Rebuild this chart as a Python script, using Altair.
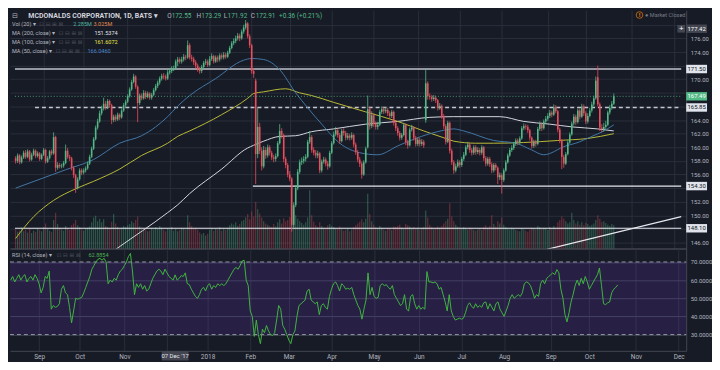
import altair as alt
import pandas as pd

# ---------------- data ----------------
closes = [
    158.0, 158.8, 157.8, 158.5, 159.2, 158.6, 159.4, 158.2, 158.9, 159.5,
    158.7, 159.1, 158.3, 158.9, 159.6, 157.9, 158.4, 159.4, 159.1, 161.5,
    157.0, 157.4, 157.2, 157.3, 157.7, 159.5, 158.6, 158.4, 157.0, 155.9,
    154.0, 155.3, 156.6, 156.3, 156.6, 156.9, 157.6, 158.6, 159.8, 161.2,
    162.9, 163.8, 165.0, 165.7, 166.4, 165.9, 166.8, 166.2, 164.0, 164.5,
    164.1, 164.8, 164.4, 165.4, 166.2, 166.7, 167.5, 168.5, 169.6, 170.4,
    168.9, 166.5, 167.6, 167.2, 168.0, 167.4, 167.9, 167.3, 167.7, 168.4,
    169.0, 169.5, 170.1, 170.5, 170.4, 170.1, 171.0, 171.2, 171.5, 171.6,
    172.6, 172.91, 172.6, 172.9, 173.3, 173.2, 175.0, 173.2, 173.0, 172.5,
    172.0, 171.5, 171.2, 171.8, 172.4, 172.6, 172.1, 173.0, 173.4, 172.6,
    173.2, 172.9, 173.5, 173.2, 173.6, 173.3, 173.9, 174.6, 175.3, 175.6,
    176.0, 176.4, 176.0, 177.0, 177.6, 178.2, 176.3, 175.0, 171.2, 170.8,
    159.0, 163.0, 159.5, 157.2, 159.6, 158.8, 160.0, 159.2, 158.5, 158.3,
    158.7, 160.6, 162.4, 161.8, 158.3, 157.4, 156.0, 155.4, 148.6, 151.5,
    154.0, 156.4, 157.8, 158.0, 158.3, 158.6, 160.8, 161.5, 159.6, 159.2,
    158.8, 159.1, 156.6, 157.9, 158.2, 157.6, 157.2, 159.2, 160.6, 161.9,
    162.5, 161.8, 160.9, 162.4, 162.1, 161.4, 161.7, 161.4, 161.8, 160.4,
    159.3, 158.2, 157.6, 156.0, 157.8, 159.8, 165.6, 163.1, 164.7, 163.4,
    163.0, 163.3, 165.2, 165.6, 165.3, 165.5, 165.0, 164.6, 165.2, 163.6,
    162.8, 162.1, 161.4, 161.8, 163.3, 160.8, 160.3, 162.6, 162.9, 161.4,
    160.5, 161.1, 160.5, 160.8, 160.3, 169.4, 167.5, 167.4, 167.1, 167.3,
    166.9, 165.8, 166.1, 164.6, 163.1, 160.8, 163.6, 159.5, 157.8, 156.6,
    157.2, 157.8, 157.4, 158.3, 158.9, 160.0, 160.4, 159.6, 159.2, 160.0,
    159.3, 159.6, 159.2, 160.0, 158.4, 157.6, 158.3, 157.5, 156.6, 157.4,
    157.0, 155.6, 155.9, 155.2, 156.6, 157.8, 158.8, 159.6, 159.9, 160.5,
    161.0, 160.7, 161.3, 162.8, 163.1, 163.0, 162.5, 161.4, 160.2, 160.8,
    160.5, 162.7, 163.4, 162.8, 163.8, 164.2, 164.6, 165.1, 164.8, 165.9,
    165.3, 162.6, 161.0, 158.6, 157.6, 159.0, 160.7, 161.9, 163.5, 164.5,
    163.7, 165.4, 164.5, 166.0, 165.0, 163.8, 164.6, 165.4, 166.3, 167.2,
    169.8, 166.3, 162.9, 162.7, 163.0, 163.3, 165.1, 165.8, 166.4, 167.49,
]
opens = [
    158.4, 158.0, 158.8, 157.8, 158.5, 159.2, 158.6, 159.4, 158.2, 158.9,
    159.5, 158.7, 159.1, 158.3, 158.9, 159.6, 157.9, 158.4, 159.4, 159.1,
    161.5, 157.0, 157.4, 157.2, 157.3, 157.7, 159.5, 158.6, 158.4, 157.0,
    155.9, 154.0, 155.3, 156.6, 156.3, 156.6, 156.9, 157.6, 158.6, 159.8,
    161.2, 162.9, 163.8, 165.0, 165.7, 166.4, 165.9, 166.8, 166.2, 164.0,
    164.5, 164.1, 164.8, 164.4, 165.4, 166.2, 166.7, 167.5, 168.5, 169.6,
    170.4, 168.9, 166.5, 167.6, 167.2, 168.0, 167.4, 167.9, 167.3, 167.7,
    168.4, 169.0, 169.5, 170.1, 170.5, 170.4, 170.1, 171.0, 171.2, 171.5,
    171.6, 172.55, 172.91, 172.6, 172.9, 173.3, 173.2, 175.0, 173.2, 173.0,
    172.5, 172.0, 171.5, 171.2, 171.8, 172.4, 172.6, 172.1, 173.0, 173.4,
    172.6, 173.2, 172.9, 173.5, 173.2, 173.6, 173.3, 173.9, 174.6, 175.3,
    175.6, 176.0, 176.4, 176.0, 177.0, 177.6, 178.2, 176.3, 175.0, 171.2,
    169.8, 159.0, 163.0, 159.5, 157.2, 159.6, 158.8, 160.0, 159.2, 158.5,
    158.3, 158.7, 160.6, 162.4, 161.8, 158.3, 157.4, 156.0, 155.4, 148.6,
    151.5, 154.0, 156.4, 157.8, 158.0, 158.3, 158.6, 160.8, 161.5, 159.6,
    159.2, 158.8, 159.1, 156.6, 157.9, 158.2, 157.6, 157.2, 159.2, 160.6,
    161.9, 162.5, 161.8, 160.9, 162.4, 162.1, 161.4, 161.7, 161.4, 161.8,
    160.4, 159.3, 158.2, 157.6, 156.0, 157.8, 160.0, 165.6, 163.1, 164.7,
    163.4, 163.0, 163.3, 165.2, 165.6, 165.3, 165.5, 165.0, 164.6, 165.2,
    163.6, 162.8, 162.1, 161.4, 161.8, 163.3, 160.8, 160.3, 162.6, 162.9,
    161.4, 160.5, 161.1, 160.5, 160.8, 164.0, 169.4, 167.5, 167.4, 167.1,
    167.3, 166.9, 165.8, 166.1, 164.6, 163.1, 160.8, 163.6, 159.5, 157.8,
    156.6, 157.2, 157.8, 157.4, 158.3, 158.9, 160.0, 160.4, 159.6, 159.2,
    160.0, 159.3, 159.6, 159.2, 160.0, 158.4, 157.6, 158.3, 157.5, 156.6,
    157.4, 157.0, 155.6, 155.9, 155.2, 156.6, 157.8, 158.8, 159.6, 159.9,
    160.5, 161.0, 160.7, 161.3, 162.8, 163.1, 163.0, 162.5, 161.4, 160.2,
    160.8, 160.5, 162.7, 163.4, 162.8, 163.8, 164.2, 164.6, 165.1, 164.8,
    165.9, 165.3, 162.6, 161.0, 158.6, 157.6, 159.0, 160.7, 161.9, 163.5,
    164.5, 163.7, 165.4, 164.5, 166.0, 165.0, 163.8, 164.6, 165.4, 166.3,
    167.2, 170.3, 166.3, 162.9, 162.7, 163.0, 163.3, 165.1, 165.8, 166.4,
]
highs = [
    158.7, 159.1, 159.0, 158.8, 159.5, 159.6, 159.7, 159.6, 159.2, 159.8,
    159.7, 159.4, 159.3, 159.1, 159.9, 159.8, 158.7, 159.6, 159.7, 162.2,
    161.7, 157.8, 157.7, 157.6, 158.0, 160.4, 159.9, 158.9, 158.6, 157.2,
    156.1, 155.6, 156.9, 156.9, 156.9, 157.2, 157.9, 158.9, 160.1, 161.5,
    163.2, 164.2, 165.4, 166.1, 167.3, 166.8, 167.1, 167.0, 166.4, 164.8,
    164.8, 165.1, 165.0, 165.7, 166.5, 167.0, 167.8, 168.8, 169.9, 170.8,
    170.6, 169.1, 167.9, 167.9, 168.4, 168.3, 168.2, 168.1, 168.0, 168.7,
    169.3, 169.8, 170.4, 170.8, 170.9, 170.7, 171.4, 171.6, 171.9, 172.0,
    172.9, 173.29, 173.2, 173.3, 173.7, 173.6, 175.7, 175.3, 173.6, 173.3,
    172.8, 172.3, 171.8, 172.1, 172.7, 173.0, 172.9, 173.4, 173.8, 173.6,
    173.5, 173.5, 173.8, 173.8, 174.0, 173.9, 174.2, 174.9, 175.6, 176.0,
    176.4, 176.8, 176.7, 177.3, 178.0, 178.7, 178.4, 176.6, 175.2, 171.6,
    170.1, 165.8, 163.6, 160.0, 160.2, 160.0, 160.4, 160.3, 159.5, 158.9,
    159.1, 160.9, 163.4, 162.8, 162.0, 158.6, 157.7, 156.5, 155.6, 151.9,
    154.4, 156.8, 158.2, 158.5, 158.7, 159.0, 161.1, 162.4, 161.8, 160.0,
    159.6, 159.5, 159.3, 158.2, 158.6, 158.5, 158.0, 159.5, 160.9, 162.3,
    163.0, 162.8, 162.1, 162.7, 162.8, 162.4, 162.1, 162.0, 162.2, 162.0,
    160.7, 159.6, 158.6, 157.9, 158.1, 160.1, 167.6, 166.0, 165.3, 165.0,
    163.8, 163.7, 165.5, 166.0, 165.9, 165.9, 165.8, 165.3, 165.5, 165.4,
    163.9, 163.1, 162.4, 162.1, 163.6, 163.5, 161.1, 162.9, 163.3, 163.1,
    161.7, 161.4, 161.4, 161.2, 161.1, 171.4, 169.7, 167.9, 167.7, 167.7,
    167.6, 167.1, 166.5, 166.3, 164.9, 163.4, 163.9, 163.8, 159.8, 158.1,
    157.6, 158.2, 158.1, 158.6, 159.3, 160.3, 160.8, 160.7, 159.9, 160.3,
    160.3, 160.0, 159.9, 160.3, 160.2, 158.7, 158.6, 158.6, 157.8, 157.7,
    157.7, 157.2, 156.3, 156.2, 156.9, 158.1, 159.1, 159.9, 160.3, 160.8,
    161.3, 161.3, 161.6, 163.1, 163.5, 163.4, 163.3, 162.7, 161.6, 161.1,
    161.1, 163.0, 163.8, 163.7, 164.1, 164.6, 165.0, 165.5, 165.4, 166.3,
    166.2, 165.5, 162.9, 161.2, 158.9, 159.3, 161.0, 162.2, 163.8, 164.9,
    164.8, 165.7, 165.7, 166.4, 166.3, 165.3, 165.0, 165.8, 166.7, 167.6,
    170.4, 172.0, 166.6, 163.4, 163.6, 163.9, 165.4, 166.2, 166.8, 167.9,
]
lows = [
    157.6, 157.7, 157.5, 157.6, 158.3, 158.3, 158.4, 157.9, 158.0, 158.7,
    158.4, 158.5, 158.0, 158.1, 158.7, 157.6, 157.7, 158.2, 158.8, 158.9,
    156.4, 156.7, 156.9, 156.9, 157.0, 157.5, 158.3, 158.0, 156.6, 155.5,
    153.3, 153.8, 155.1, 155.9, 156.0, 156.3, 156.7, 157.4, 158.4, 159.6,
    161.0, 162.6, 163.6, 164.7, 165.4, 165.5, 165.6, 165.8, 163.4, 163.7,
    163.8, 163.9, 164.0, 164.2, 165.2, 165.9, 166.5, 167.3, 168.3, 169.4,
    168.6, 163.7, 166.2, 166.9, 167.0, 167.1, 167.2, 167.0, 167.0, 167.5,
    168.2, 168.7, 169.2, 169.8, 170.0, 169.8, 169.9, 170.7, 170.9, 171.2,
    171.4, 171.92, 172.3, 172.3, 172.6, 172.8, 173.0, 172.9, 172.6, 172.1,
    171.6, 171.1, 170.8, 170.9, 171.5, 172.1, 171.8, 171.9, 172.7, 172.3,
    172.4, 172.5, 172.6, 172.9, 172.9, 173.0, 173.1, 173.7, 174.4, 175.0,
    175.3, 175.7, 175.6, 175.8, 176.7, 177.3, 176.0, 174.6, 170.8, 170.2,
    154.6, 158.4, 159.0, 156.6, 156.9, 158.3, 158.5, 158.8, 158.1, 157.8,
    157.9, 158.5, 160.4, 161.3, 157.8, 156.9, 155.6, 155.0, 147.6, 148.2,
    151.2, 153.7, 156.1, 157.4, 157.6, 157.9, 158.4, 160.5, 159.2, 158.8,
    158.4, 158.4, 156.2, 156.3, 157.6, 157.2, 156.7, 157.0, 159.0, 160.4,
    161.6, 161.4, 160.5, 160.7, 161.7, 161.0, 161.1, 161.0, 161.1, 160.0,
    158.9, 157.8, 157.1, 155.4, 155.8, 157.6, 159.8, 162.6, 162.8, 163.0,
    162.6, 162.6, 163.1, 164.9, 164.9, 165.0, 164.6, 164.2, 164.3, 163.2,
    162.4, 161.7, 161.0, 161.1, 161.6, 160.3, 159.8, 160.1, 162.3, 161.0,
    160.1, 160.2, 160.1, 160.2, 159.9, 163.6, 167.0, 167.0, 166.7, 166.8,
    166.5, 165.4, 165.5, 164.2, 162.7, 160.4, 160.6, 159.1, 157.4, 156.1,
    156.3, 157.0, 157.0, 157.1, 158.0, 158.7, 159.7, 159.2, 158.8, 158.9,
    158.9, 159.0, 158.8, 158.9, 158.0, 157.2, 157.3, 157.1, 156.2, 156.3,
    156.6, 154.6, 155.2, 153.2, 154.9, 156.4, 157.6, 158.6, 159.3, 159.6,
    160.2, 160.3, 160.4, 161.1, 162.5, 162.6, 162.1, 161.0, 159.8, 159.9,
    160.1, 160.3, 162.4, 162.4, 162.6, 163.5, 163.9, 164.3, 164.4, 164.6,
    165.0, 162.2, 160.6, 156.8, 157.0, 157.4, 158.8, 160.5, 161.7, 163.2,
    163.3, 163.5, 164.1, 164.3, 164.6, 163.4, 163.5, 164.4, 165.1, 166.0,
    167.0, 166.0, 162.4, 162.2, 162.3, 162.6, 163.1, 164.8, 165.5, 166.2,
]
volumes = [
    3.2, 2.8, 3.0, 3.5, 2.9, 3.1, 2.7, 3.3, 2.6, 3.0, 2.8, 3.4, 3.1, 2.9, 3.6, 4.2, 3.3, 3.0, 2.8, 4.8,
    6.0, 4.1, 3.5, 3.2, 3.0, 3.8, 3.4, 3.1, 3.9, 4.2, 4.8, 3.9, 3.6, 3.2, 3.0, 3.3, 3.5, 3.7, 4.4, 5.2,
    5.5, 4.6, 5.0, 4.4, 4.9, 3.8, 3.6, 3.4, 4.5, 5.8, 4.2, 3.6, 3.3, 3.5, 3.8, 3.6, 3.9, 4.1, 4.6, 4.3,
    4.8, 5.4, 3.7, 3.3, 3.1, 3.2, 2.9, 3.0, 3.4, 3.2, 3.6, 3.3, 3.8, 3.5, 3.1, 2.9, 3.4, 3.2, 3.6, 3.0,
    3.3, 2.9, 3.1, 3.5, 3.4, 3.2, 5.6, 4.4, 3.8, 3.3, 3.5, 3.1, 2.7, 2.4, 2.6, 2.2, 2.5, 3.1, 3.4, 3.0,
    3.3, 3.2, 3.6, 3.0, 3.4, 3.1, 3.5, 3.9, 4.2, 4.0, 4.4, 3.8, 4.1, 4.6, 4.8, 5.2, 5.8, 4.9, 6.2, 5.4,
    7.8, 6.6, 5.9, 5.2, 4.6, 4.2, 4.0, 3.8, 3.6, 4.1, 3.7, 4.4, 4.9, 4.2, 5.1, 4.6, 4.8, 5.3, 6.8, 6.0,
    5.6, 5.0, 4.6, 4.3, 4.0, 4.4, 5.2, 9.8, 5.6, 4.5, 3.9, 3.6, 4.4, 3.8, 3.5, 3.4, 3.9, 4.1, 3.8, 3.6,
    3.4, 3.3, 3.7, 3.2, 3.0, 3.1, 3.3, 2.9, 3.2, 3.6, 3.9, 4.2, 4.5, 4.9, 4.4, 5.0, 9.2, 5.8, 4.6, 4.0,
    3.6, 3.4, 3.8, 3.5, 3.2, 3.0, 3.3, 3.4, 3.1, 3.7, 3.6, 3.8, 4.0, 3.5, 3.3, 4.1, 3.9, 3.7, 3.4, 3.6,
    3.3, 3.5, 3.2, 3.4, 3.6, 6.4, 5.2, 4.0, 3.6, 3.3, 3.4, 3.7, 3.5, 3.8, 4.2, 4.6, 5.0, 7.6, 5.4, 4.6,
    4.0, 3.7, 3.5, 3.3, 3.6, 3.4, 3.2, 3.5, 3.3, 3.1, 3.0, 3.2, 3.4, 3.1, 3.6, 3.9, 3.5, 3.8, 5.6, 4.1,
    3.7, 4.6, 4.2, 5.2, 4.0, 3.6, 3.4, 3.2, 3.5, 3.3, 3.1, 3.0, 2.9, 3.4, 3.2, 3.0, 2.8, 3.1, 3.5, 3.3,
    3.2, 3.8, 3.6, 3.3, 3.5, 3.4, 3.1, 3.6, 3.4, 3.8, 3.5, 4.4, 4.8, 5.4, 5.0, 4.6, 4.2, 4.4, 6.0, 4.8,
    4.2, 4.6, 4.0, 4.4, 3.9, 4.3, 4.1, 3.8, 4.0, 4.2, 4.8, 5.6, 5.0, 4.5, 4.6, 4.3, 4.0, 3.8, 4.1, 3.9,
]
rsi14 = [
    60, 62, 59, 61, 63, 60, 62, 63, 59, 61,
    62, 60, 63, 61, 58, 53, 56, 62, 61, 65,
    44, 46, 45, 45.5, 47, 55, 57, 53, 52, 45,
    36.5, 43, 50, 49.5, 50, 50.5, 53, 56, 59, 62,
    66, 68, 70, 71.5, 72, 71, 72, 70, 58, 60,
    59, 61, 60, 63, 65, 66, 68, 70, 73, 74.7,
    65, 52, 58, 56, 58, 55, 57, 54, 55, 58,
    61, 63, 65, 66, 65, 63, 66, 64, 62, 61,
    60, 62.9, 60, 61, 62.5, 62, 64, 58, 57.5, 55,
    53, 51, 50, 52, 55, 56, 54, 57, 58, 55,
    57, 56, 58, 57, 58, 57, 58, 60, 62, 64,
    66, 67, 66, 68, 70.5, 71, 60, 57, 43, 40,
    29, 38, 30, 25, 33, 31, 35, 32, 30, 29.5,
    31, 38, 46, 44, 35, 33, 30, 27, 25, 30,
    32, 40, 46, 47, 48, 49, 54, 55, 49, 48,
    47, 48, 41, 46, 47, 45, 44, 51, 55, 58,
    59, 57, 54, 58, 57, 55, 55.5, 55, 56, 52,
    49, 46, 44, 38.5, 44, 49, 64, 52, 56, 51,
    50, 50.5, 57, 58, 57, 57.5, 56, 55, 57, 52,
    50, 48, 46, 47, 52, 44, 43, 51, 52, 47,
    44, 46, 44, 45, 44, 64.7, 59, 59, 58.5, 59,
    58, 55, 56, 52, 48, 43, 52, 43, 40, 38,
    38.5, 39, 38.5, 39, 42, 46, 47.5, 45.5, 44.5, 47,
    45, 46, 45, 47.5, 48, 44, 47, 45, 43, 47,
    48, 44, 42, 40, 43, 46, 50, 52, 50, 51,
    52, 51, 53, 58, 59, 58.5, 57, 54, 50, 52,
    51, 58, 60, 58, 61, 62, 63, 64, 63, 65.8,
    64, 55, 50, 41, 37, 42, 48, 52, 57, 60,
    57, 61, 58, 62, 59, 55, 57, 59, 61, 63,
    66.7, 57, 47, 46.5, 47.5, 48, 53, 55, 56, 57.4,
]

ma50_bar = [0, 25, 39, 52, 63, 70, 76, 81, 87, 100, 114, 118, 124, 132, 140, 146, 153,
            162, 172, 181, 191, 200, 211, 219, 224, 239, 250, 258, 264, 275, 280, 288, 294, 299]
ma50_val = [154.0, 156.7, 158.2, 160.6, 161.7, 163.0, 164.5, 166.05, 167.6, 170.1, 172.8, 173.05,
            172.9, 171.4, 168.0, 165.8, 163.4, 160.6, 159.2, 158.9, 160.2, 161.3, 162.3, 162.7,
            162.4, 161.0, 160.6, 159.6, 158.9, 160.2, 160.6, 161.6, 162.4, 163.3]
ma100_bar = [0, 9, 19, 30, 39, 52, 63, 76, 81, 87, 103, 116, 119, 124, 135, 142, 148, 159,
             175, 191, 204, 215, 219, 230, 239, 254, 271, 286, 299]
ma100_val = [146.6, 149.8, 152.2, 153.9, 155.0, 156.8, 158.8, 160.6, 161.6, 162.4, 164.8, 167.2,
             167.9, 168.15, 168.6, 168.0, 167.6, 166.6, 165.2, 163.8, 162.4, 161.3, 160.9, 160.6,
             160.6, 160.7, 161.0, 161.3, 162.0]
ma200_bar = [0, 51, 76, 81, 87, 103, 116, 119, 124, 132, 140, 148, 159, 175, 191, 207, 219,
             242, 254, 267, 278, 291, 299]
ma200_val = [134.4, 145.2, 150.4, 151.54, 153.2, 156.8, 159.9, 160.3, 160.9, 161.6, 161.7, 162.3,
             162.7, 163.4, 163.8, 164.4, 164.5, 164.5, 163.8, 163.4, 163.0, 162.7, 162.4]

level_price = [171.50, 165.85, 154.30, 148.10]
level_start = [-0.33, 9.7, 118.6, -0.33]
trend_bar = [265.6, 332.7]
trend_price = [145.0, 149.8]
last_price = 167.49
cross_price = 177.42
cross_bar = 81
cross_label = "07 Dec '17"

price_ticks = [146, 148, 150, 152, 154, 156, 158, 160, 162, 164, 166, 168, 170, 172, 174, 176, 178]
rsi_ticks = [30, 40, 50, 60, 70]
month_idx = [14, 34, 56, 77, 97, 118, 137, 158, 179, 201, 222, 243, 266, 285, 308, 329]
month_lbl = ["Sep", "Oct", "Nov", "", "2018", "Feb", "Mar", "Apr", "May", "Jun", "Jul", "Aug",
             "Sep", "Oct", "Nov", "Dec"]

# ---------------- styling ----------------
FONT = "Roboto"
BG = "#171b26"
GRID = "#2a2e3a"
BORDER = "#434651"
TXT = "#b2b5be"
UP = "#53b987"
DN = "#eb4d5c"
W, H1, H2 = 681, 240, 103
XDOM = [-0.33, 332.7]
PDOM = [145.12, 180.14]
RDOM = [21.05, 77.4]

df = pd.DataFrame({"i": list(range(len(closes))), "o": opens, "h": highs, "l": lows,
                   "c": closes, "v": volumes, "rsi": rsi14})
df["dir"] = ["up" if c >= o else "down" for o, c in zip(opens, closes)]

xs = alt.Scale(domain=XDOM, nice=False, zero=False)
ys = alt.Scale(domain=PDOM, nice=False, zero=False)
rs = alt.Scale(domain=RDOM, nice=False, zero=False)
col = alt.Color("dir:N", scale=alt.Scale(domain=["up", "down"], range=[UP, DN]), legend=None)
one = pd.DataFrame({"k": [0]})

# price-scale labels hidden where a marker box sits on top of them (as TradingView does)
box_prices = level_price + [last_price, cross_price]
hidden = [t for t in price_ticks if any(abs(t - b) < 1.3 for b in box_prices)]
p_label_expr = f"indexof({hidden}, datum.value) >= 0 ? '' : datum.label"

# identical axis definitions are repeated in every layer that shares the scale
p_axis = alt.Axis(orient="right", values=price_ticks, format=".2f", labelExpr=p_label_expr,
                  grid=True, gridColor=GRID, domain=True, domainColor=BORDER, ticks=False,
                  labelColor=TXT, labelFontSize=6, labelFont=FONT, labelPadding=4, title=None)
x_axis_main = alt.Axis(orient="bottom", values=month_idx, grid=True, gridColor=GRID, labels=False,
                       ticks=False, domain=True, domainColor=BORDER, domainWidth=1.5, title=None)
expr = "".join(f"datum.value == {i} ? '{m}' : " for i, m in zip(month_idx, month_lbl)) + "''"
x_axis_bot = alt.Axis(orient="bottom", values=month_idx, labelExpr=expr, grid=True, gridColor=GRID,
                      ticks=False, domain=True, domainColor=BORDER, labelColor=TXT,
                      labelFontSize=6.5, labelFont=FONT, labelPadding=3, title=None)
r_axis = alt.Axis(orient="right", values=rsi_ticks, format=".4f", grid=True, gridColor="#3a3f4f",
                  domain=True, domainColor=BORDER, ticks=False, labelColor=TXT, labelFontSize=6,
                  labelFont=FONT, labelPadding=4, title=None)


def XM(f):
    return alt.X(f, scale=xs, axis=x_axis_main)


def YP(f):
    return alt.Y(f, scale=ys, axis=p_axis)


def XR(f):
    return alt.X(f, scale=xs, axis=x_axis_bot)


def YR(f):
    return alt.Y(f, scale=rs, axis=r_axis)


def label(txt, x, y, color, size=5.6, weight="normal", align="left", font=FONT):
    return alt.Chart(one).mark_text(text=txt, align=align, baseline="middle", fontSize=size,
                                    fontWeight=weight, color=color, font=font).encode(
        x=alt.value(x), y=alt.value(y))


# ---------------- main price pane ----------------
vol = alt.Chart(df).mark_bar(size=1.2, opacity=0.38, orient="vertical").encode(
    x=XM("i:Q"), y=alt.Y("v:Q", scale=alt.Scale(domain=[0, 40], nice=False), axis=None), color=col)

levels = []
styles = [dict(color="#9598a1", strokeWidth=2),
          dict(color="#c3c6ce", strokeWidth=1.4, strokeDash=[4, 3]),
          dict(color="#e6e8ee", strokeWidth=1.2),
          dict(color="#e6e8ee", strokeWidth=1.2)]
for p, s, st in zip(level_price, level_start, styles):
    d = pd.DataFrame({"p": [p], "s": [s], "e": [XDOM[1]]})
    levels.append(alt.Chart(d).mark_rule(**st).encode(x=XM("s:Q"), x2="e:Q", y=YP("p:Q")))

trend = alt.Chart(pd.DataFrame({"i": trend_bar, "p": trend_price})).mark_line(
    color="#e6e8ee", strokeWidth=1.2, clip=True).encode(x=XM("i:Q"), y=YP("p:Q"))


def ma_line(bars, vals, color):
    return alt.Chart(pd.DataFrame({"i": bars, "p": vals})).mark_line(
        color=color, strokeWidth=1, clip=True, interpolate="monotone").encode(
        x=XM("i:Q"), y=YP("p:Q"))


ma200 = ma_line(ma200_bar, ma200_val, "#d5d7de")
ma100 = ma_line(ma100_bar, ma100_val, "#b9b937")
ma50 = ma_line(ma50_bar, ma50_val, "#4277a6")

last_line = alt.Chart(pd.DataFrame({"p": [last_price], "s": [XDOM[0]], "e": [XDOM[1]]})).mark_rule(
    color=UP, strokeWidth=1, strokeDash=[1, 2], opacity=0.8).encode(
    x=XM("s:Q"), x2="e:Q", y=YP("p:Q"))

wicks = alt.Chart(df).mark_rule(strokeWidth=0.8).encode(
    x=XM("i:Q"), y=YP("l:Q"), y2="h:Q", color=col)
bodies = alt.Chart(df).mark_rule(strokeWidth=1.6).encode(
    x=XM("i:Q"), y=YP("o:Q"), y2="c:Q", color=col)


def price_box(price, bg, fg):
    d = pd.DataFrame({"p": [price]})
    box = alt.Chart(d).mark_tick(orient="horizontal", size=21, thickness=8.5, color=bg,
                                 opacity=1).encode(x=alt.value(W + 10.5), y=YP("p:Q"))
    txt = alt.Chart(d).mark_text(fontSize=6, color=fg, font=FONT, align="center",
                                 baseline="middle").encode(
        x=alt.value(W + 10.5), y=YP("p:Q"), text=alt.Text("p:Q", format=".2f"))
    return [box, txt]


boxes = []
for p in level_price:
    boxes += price_box(p, "#e0e3eb", "#131722")
boxes += price_box(last_price, UP, "#ffffff")
boxes += price_box(cross_price, "#434651", "#ffffff")
cp = pd.DataFrame({"p": [cross_price]})
plus_btn = alt.Chart(cp).mark_square(size=60, color="#434651", opacity=1).encode(
    x=alt.value(W - 5), y=YP("p:Q"))
plus_txt = alt.Chart(cp).mark_text(text="+", fontSize=8, color="#ffffff", align="center",
                                   baseline="middle").encode(x=alt.value(W - 5), y=YP("p:Q"))

BTN = "\u22a1 \u229f \u229e \u22a0"
header = [
    label("\u229f", 2, 5.7, TXT, 7, font="DejaVu Sans"),
    label("MCDONALDS CORPORATION, 1D, BATS \u25be", 18.5, 5.7, "#d1d4dc", 7, weight="bold"),
    label("O", 158.4, 5.7, TXT, 6.5), label("172.55", 162.8, 5.7, UP, 6.5),
    label("H", 187.8, 5.7, TXT, 6.5), label("173.29", 192.7, 5.7, UP, 6.5),
    label("L", 215.2, 5.7, TXT, 6.5), label("171.92", 219.1, 5.7, UP, 6.5),
    label("C", 242.5, 5.7, TXT, 6.5), label("172.91", 247.4, 5.7, UP, 6.5),
    label("+0.36 (+0.21%)", 270.9, 5.7, UP, 6.5),
    label("Vol (20) \u25be", 2, 14.3, TXT), label(BTN, 29.5, 14.3, "#50535e", 5.6, font="DejaVu Sans"),
    label("2.285M", 63.6, 14.3, "#4db6a1"), label("3.025M", 84.1, 14.3, "#e08a4c"),
    label("MA (200, close) \u25be", 2, 23.3, TXT), label(BTN, 49, 23.3, "#50535e", 5.6, font="DejaVu Sans"),
    label("151.5374", 85, 23.3, "#e0e3eb"),
    label("MA (100, close) \u25be", 2, 32.3, TXT), label(BTN, 49, 32.3, "#50535e", 5.6, font="DejaVu Sans"),
    label("161.6072", 85, 32.3, "#e8e84a"),
    label("MA (50, close) \u25be", 2, 40.9, TXT), label(BTN, 46, 40.9, "#50535e", 5.6, font="DejaVu Sans"),
    label("166.0460", 78, 40.9, "#4a86c5"),
    alt.Chart(one).mark_point(shape="circle", size=45, filled=False, color="#f57c00",
                              strokeWidth=1).encode(x=alt.value(634), y=alt.value(4.8)),
    label("!", 634, 5.0, "#f57c00", 6, weight="bold", align="center"),
    label("\u25cf Market Closed", 639.6, 4.8, "#787b86"),
]

price = alt.layer(*levels, trend, ma200, ma100, ma50, wicks, bodies, last_line,
                  *boxes, plus_btn, plus_txt, *header)
main = alt.layer(vol, price).resolve_scale(y="independent").properties(width=W, height=H1)

# ---------------- RSI pane ----------------
band = alt.Chart(pd.DataFrame({"lo": [30], "hi": [70]})).mark_rect(
    color="#7b3fe4", opacity=0.16).encode(
    x=alt.value(0), x2=alt.value(W), y=YR("lo:Q"), y2="hi:Q")
dashes = alt.Chart(pd.DataFrame({"p": [30, 70]})).mark_rule(
    color="#9598a1", strokeDash=[4, 3], strokeWidth=1).encode(
    x=alt.value(0), x2=alt.value(W), y=YR("p:Q"))
rsi_line = alt.Chart(df).mark_line(color="#3fb33f", strokeWidth=1).encode(
    x=XR("i:Q"), y=YR("rsi:Q"))
date_df = pd.DataFrame({"i": [cross_bar], "t": [cross_label]})
date_box = alt.Chart(date_df).mark_tick(orient="horizontal", size=27, thickness=9.5,
                                        color="#434651", opacity=1).encode(
    x=XR("i:Q"), y=alt.value(H2 + 5))
date_txt = alt.Chart(date_df).mark_text(fontSize=6, color="#e0e3eb", font=FONT,
                                        baseline="middle").encode(
    x=XR("i:Q"), y=alt.value(H2 + 5), text="t:N")
rsi_hdr = [
    label("RSI (14, close) \u25be", 2, 6.7, TXT),
    label(BTN, 47, 6.7, "#50535e", 5.6, font="DejaVu Sans"),
    label("62.8854", 79, 6.7, "#4caf50"),
]
rsi = alt.layer(band, dashes, rsi_line, date_box, date_txt, *rsi_hdr).properties(
    width=W, height=H2)

chart = alt.vconcat(main, rsi, spacing=0).properties(
    background=BG, padding=0).configure_view(strokeWidth=0)

chart.save("out.html", embed_options={"renderer": "svg", "actions": False})
